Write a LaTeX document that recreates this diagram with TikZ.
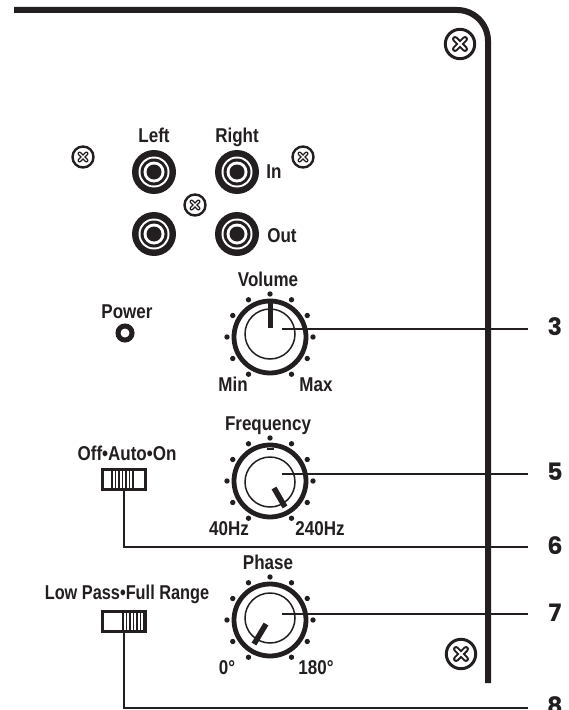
\documentclass[tikz,border=0pt]{standalone}
\usepackage{fontspec}
\setmainfont[FakeStretch=0.85]{Liberation Sans}
\newfontfamily\numfont{Poppins}
\tikzset{
  x=1bp,y=-1bp,
  every node/.style={inner sep=0pt,outer sep=0pt},
  lbl/.style={font=\fontsize{20bp}{22bp}\selectfont\bfseries,anchor=base,text=ink},
  numlbl/.style={font=\fontsize{24bp}{26bp}\selectfont\numfont\bfseries,text=ink,anchor=center},
  leader/.style={draw=ink,line width=1.3bp},
  panel/.style={draw=ink,line width=6bp},
  swbox/.style={draw=ink,line width=2.8bp,fill=white,minimum width=43.5bp,minimum height=20.5bp,rectangle},
}
\definecolor{ink}{HTML}{231F20}
\newcommand{\bigscrew}[2]{%
  \draw[ink,line width=3bp] (#1,#2) circle (14.7);
  \draw[ink,line width=6bp,line cap=round] (#1-5,#2-5) -- (#1+5,#2+5) (#1-5,#2+5) -- (#1+5,#2-5);
  \draw[white,line width=2bp,line cap=round] (#1-5,#2-5) -- (#1+5,#2+5) (#1-5,#2+5) -- (#1+5,#2-5);
}
\newcommand{\smallscrew}[2]{%
  \draw[ink,line width=2.4bp] (#1,#2) circle (10.5);
  \draw[ink,line width=4.2bp,line cap=round] (#1-3.4,#2-3.4) -- (#1+3.4,#2+3.4) (#1-3.4,#2+3.4) -- (#1+3.4,#2-3.4);
  \draw[white,line width=1.4bp,line cap=round] (#1-3.4,#2-3.4) -- (#1+3.4,#2+3.4) (#1-3.4,#2+3.4) -- (#1+3.4,#2-3.4);
}
\newcommand{\jack}[2]{%
  \fill[ink] (#1,#2) circle (22);
  \fill[white] (#1,#2) circle (15.5);
  \fill[ink] (#1,#2) circle (13.5);
  \fill[white] (#1,#2) circle (10.5);
  \fill[ink] (#1,#2) circle (7.5);
}
\newcommand{\knob}[3]{% cx, cy ring, cy inner
  \foreach \a in {-60,-30,0,30,60,90,120,150,180,210,240}
    \fill[ink] ($(#1,#2)+(\a:43 and -43)$) circle (2.7);
  \draw[ink,line width=4.8bp] (#1,#2) circle (36);
  \draw[ink,line width=1.5bp] (#1,#3) circle (25);
}
\usetikzlibrary{calc}
\begin{document}
\begin{tikzpicture}
\useasboundingbox (0,0) rectangle (569,710);
\fill[white] (0,0) rectangle (569,710);

% connector anchors
\coordinate (volin) at (282,329);
\coordinate (volend) at (528,329);
\coordinate (freqin) at (282,474);
\coordinate (freqend) at (528,474);
\coordinate (phasein) at (282,614);
\coordinate (phaseend) at (528,614);
\coordinate (end6) at (528,547);
\coordinate (end8) at (528,708);

% knobs
\knob{270}{337}{334}
\knob{270}{481}{482}
\knob{270}{620}{618}
\draw[ink,line width=5bp] (270,303) -- (270,328);
\draw[ink,line width=1.6bp] (266.5,449) -- (273.5,449);
\draw[ink,line width=5.5bp] (274,488) -- (285,507);
\draw[ink,line width=5.5bp] (266,624) -- (254,644);

% switches
\node[swbox] (swa) at (124,479.5) {};
\node[swbox] (swb) at (124,621.5) {};
\foreach \x in {112,115.5,119,122.5,126,129.5,133}
  \draw[ink,line width=1.6bp] (\x,469) -- (\x,490);
\foreach \x in {123,126.5,130,133.5,137,140.5,144}
  \draw[ink,line width=1.6bp] (\x,611) -- (\x,632);

% leaders
\draw[leader] (volin) -- (volend);
\draw[leader] (freqin) -- (freqend);
\draw[leader] (phasein) -- (phaseend);
\draw[leader] (swa.south) |- (end6);
\draw[leader] (swb.south) |- (end8);

% panel edge
\draw[panel] (14,10) -- (457,10) arc (90:0:31 and -31) -- (488,683);

% screws
\bigscrew{460}{44}
\bigscrew{461}{654}
\smallscrew{83}{157}
\smallscrew{303}{157}
\smallscrew{195}{205}

% jacks
\jack{154}{172}
\jack{237}{172}
\jack{154}{234}
\jack{237}{234}

% power LED
\draw[ink,line width=5bp] (125,333) circle (7);

% labels
\node[lbl] (tleft) at (154,142) {Left};
\node[lbl] (tright) at (237,142) {Right};
\node[lbl] (tin) at (274,178) {In};
\node[lbl] (tout) at (282,242) {Out};
\node[lbl] (tvol) at (268,286) {Volume};
\node[lbl] (tpow) at (127,318) {Power};
\node[lbl] (tmin) at (233,391) {Min};
\node[lbl] (tmax) at (316,391) {Max};
\node[lbl] (tfreq) at (268,430) {Frequency};
\node[lbl] (toff) at (127,460) {Off•Auto•On};
\node[lbl] (t40) at (229,535) {40Hz};
\node[lbl] (t240) at (320,535) {240Hz};
\node[lbl] (tphase) at (268,569) {Phase};
\node[lbl] (tlow) at (127,599) {\scalebox{0.96}[1]{Low Pass•Full Range}};
\node[lbl] (t0) at (227,674) {0°};
\node[lbl] (t180) at (316,674) {180°};

\node[numlbl] (n3) at (555,327) {3};
\node[numlbl] (n5) at (555,472) {5};
\node[numlbl] (n6) at (555,546) {6};
\node[numlbl] (n7) at (555,613) {7};
\node[numlbl] (n8) at (555,706) {8};
\end{tikzpicture}
\end{document}
